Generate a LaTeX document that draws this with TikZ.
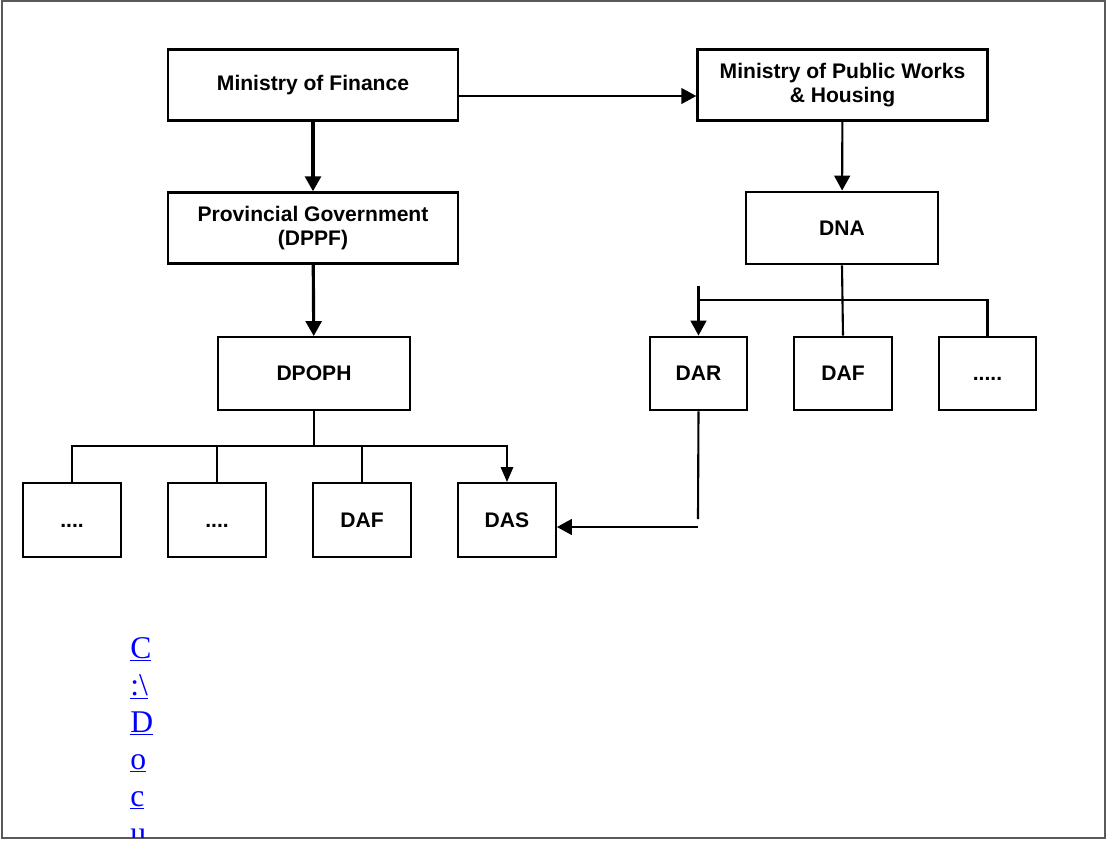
\documentclass[tikz,border=0pt]{standalone}
\usepackage{fontspec}
\setmainfont{Liberation Serif}
\setsansfont{Liberation Sans}
\usetikzlibrary{arrows.meta}
\definecolor{linkblue}{RGB}{0,0,255}
\tikzset{
  unit/.style={draw,line width=1.4pt,inner sep=0pt,align=center,
    font=\sffamily\bfseries\fontsize{12}{14}\selectfont},
  wide/.style={unit,minimum width=5.8cm,minimum height=1.42cm},
  mid/.style={unit,minimum width=3.84cm,minimum height=1.45cm},
  small/.style={unit,minimum width=1.95cm,minimum height=1.47cm},
  link/.style={line width=1.2pt},
  tip/.style={-{Triangle[length=8.5pt,width=9pt]}},
  smalltip/.style={-{Triangle[length=8.5pt,width=7pt]}},
}
\newcommand{\branch}[2]{\draw[link] (#1.north) -- (#1.north |- #2);}

\begin{document}
\begin{tikzpicture}[x=0.02cm,y=-0.02cm]
  \useasboundingbox (0,0) rectangle (1107,840);
  \draw[gray!70!black,line width=1.2pt] (2,1) rectangle (1105,838);

  % finance side
  \node[wide] (mof) at (313,85) {Ministry of Finance};
  \node[wide] (prov) at (313,228) {Provincial Government\\(DPPF)};
  \node[mid] (dpoph) at (314,373.5) {DPOPH};
  \foreach \n/\t [count=\i from 0] in {lone/{\vphantom{D}....},ltwo/{\vphantom{D}....},ldaf/DAF,das/DAS}
    {\node[small] (\n) at ({72+\i*145},520) {\t};}

  % public works side
  \node[wide] (mpwh) at (842.5,85) {Ministry of Public Works\\\& Housing};
  \node[mid] (dna) at (842,228) {DNA};
  \foreach \n/\t [count=\i from 0] in {dar/DAR,rdaf/DAF,rdots/{\vphantom{D}.....}}
    {\node[small] (\n) at ({698.5+\i*144.5},373.5) {\t};}

  \coordinate (lbar) at (314,446);
  \coordinate (rbar) at (843,300);
  \coordinate (darend) at (698,519);
  \coordinate (dasin) at (698,527);

  \draw[line width=1.8pt,tip] (mof) -- (prov);
  \draw[line width=1.8pt,tip] (prov) -- (dpoph);
  \draw[line width=0.9pt,tip] ([yshift=-0.22cm]mof.east) -- ([yshift=-0.22cm]mpwh.west);
  \draw[link,tip] (mpwh) -- (dna);

  % left tree
  \draw[link] (dpoph.south) -- (lbar);
  \draw[link] (lone.north) |- (lbar);
  \draw[link,smalltip] (lbar) -| (das.north);
  \branch{ltwo}{lbar}
  \branch{ldaf}{lbar}

  % right tree
  \draw[link] (dna.south) -- (rdaf.north);
  \draw[link] (dar.north |- rbar) -| (rdots.north);
  \draw[link,tip] ([yshift=1cm]dar.north) -- (dar.north);
  \draw[link] (dar.south) -- (darend);
  \draw[link,tip] (dasin) -- (das.east |- dasin);

  % link text
  \begin{scope}
    \clip (3,2) rectangle (1104,837);
    \foreach \c [count=\i from 0] in {C,{:\textbackslash},D,o,c,u}
      {\node[anchor=base west,inner sep=0pt,text=linkblue,
        font=\fontsize{18}{21}\selectfont] (ch\i) at (130,{658+\i*37}) {\underline{\c}};}
  \end{scope}
\end{tikzpicture}
\end{document}
